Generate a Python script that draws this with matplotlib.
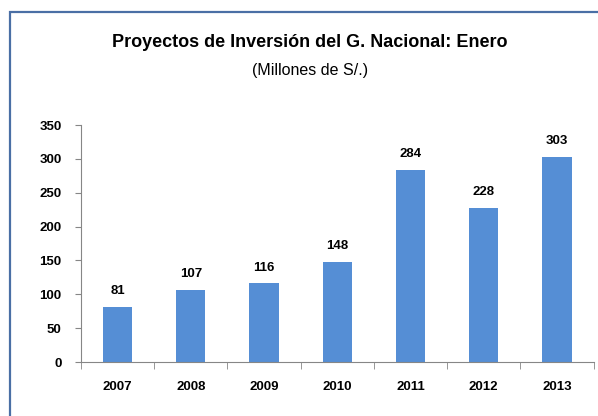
import matplotlib.pyplot as plt
import numpy as np
from matplotlib.patches import Rectangle

# data
years = ["2007", "2008", "2009", "2010", "2011", "2012", "2013"]
values = [81, 107, 116, 148, 284, 228, 303]
yticks = [0, 50, 100, 150, 200, 250, 300, 350]

plt.rcParams['font.family'] = ['Liberation Sans', 'DejaVu Sans']

fig = plt.figure(figsize=(5.98, 4.16), dpi=100)
ax = fig.add_axes([0.1355, 0.1298, 0.857, 0.5697])

x = np.arange(len(years))
ax.bar(x, values, width=0.4, color="#558ED5", zorder=2)

for xi, v in zip(x, values):
    ax.annotate(str(v), (xi, v), xytext=(0, 7), textcoords="offset points",
                ha="center", va="bottom", fontsize=9.5, fontweight="bold")

ax.set_xlim(-0.5, len(years) - 0.5)
ax.set_ylim(0, 350)
ax.set_yticks(yticks)
ax.set_yticklabels([str(t) for t in yticks], fontsize=9.5, fontweight="bold")

# category labels centred, ticks between categories
ax.set_xticks(x)
ax.set_xticklabels(years, fontsize=9.5, fontweight="bold")
ax.tick_params(axis="x", length=0, pad=14)
ax.set_xticks(np.arange(-0.5, len(years)), minor=True)
ax.tick_params(axis="x", which="minor", length=5, color="#868686", direction="out")
ax.tick_params(axis="y", length=4, color="#868686", pad=10)

for s in ["top", "right"]:
    ax.spines[s].set_visible(False)
ax.spines["left"].set_color("#868686")
ax.spines["bottom"].set_color("#868686")

fig.text(0.518, 0.899, "Proyectos de Inversión del G. Nacional: Enero",
         ha="center", va="center", fontsize=13, fontweight="bold")
fig.text(0.518, 0.83, "(Millones de S/.)", ha="center", va="center", fontsize=11.5)

# outer frame (cut off at right and bottom)
frame = Rectangle((10 / 598, -0.05), 1.2, 1.05 - 12 / 416, transform=fig.transFigure,
                  fill=False, edgecolor="#4a6fa5", linewidth=1.6, clip_on=False)
fig.patches.append(frame)

fig.savefig("out.png", dpi=100)
